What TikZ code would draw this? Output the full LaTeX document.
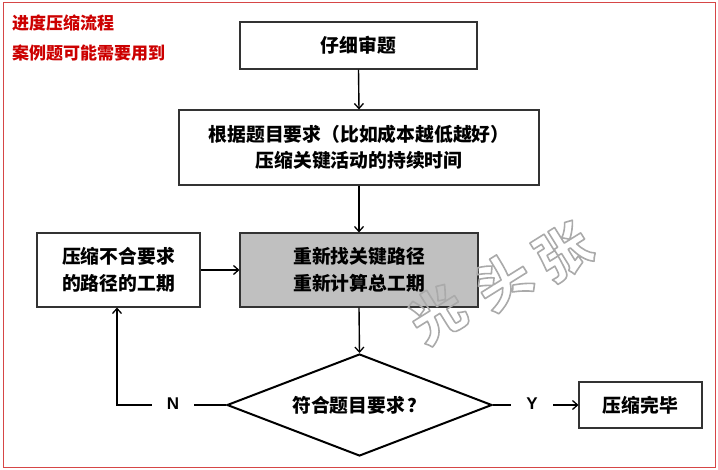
\documentclass[tikz,border=0pt]{standalone}
\usepackage{fontspec}
\usetikzlibrary{arrows.meta,shapes.geometric}
\newfontfamily\cjk{Noto Sans CJK SC}
\newfontfamily\latb{Liberation Sans}
\definecolor{redtxt}{RGB}{204,0,0}
\definecolor{redframe}{RGB}{214,70,70}
\definecolor{boxgray}{RGB}{192,192,192}
\definecolor{wmgray}{RGB}{170,170,170}
\newcommand{\hollowtext}[1]{\special{pdf:code 1 Tr 1.6 w 1 J 1 j}#1\special{pdf:code 0 Tr}}
\tikzset{
  box/.style={draw=black!80, line width=1.1pt, fill=white, align=center, inner sep=0pt,
    font=\cjk\bfseries\fontsize{18.8pt}{26.5pt}\selectfont},
  arr/.style={line width=1.4pt, -{Straight Barb[length=5pt,width=9pt,line width=1.3pt]}},
  lin/.style={line width=1.4pt},
  lbl/.style={font=\latb\bfseries\fontsize{17pt}{20pt}\selectfont, inner sep=0pt, minimum width=42pt, minimum height=20pt},
  redlbl/.style={font=\cjk\bfseries\fontsize{17pt}{20pt}\selectfont, text=redtxt, anchor=west, inner sep=0pt},
  wm/.style={font=\cjk\bfseries\fontsize{54pt}{56pt}\selectfont, rotate=32, inner sep=0pt, text=wmgray}
}
\begin{document}
\begin{tikzpicture}[x=1pt,y=-1pt]
\useasboundingbox (0,0) rectangle (718,470);
\fill[white] (0,0) rectangle (718,470);
\draw[redframe, line width=1pt] (3,3) rectangle (715,467);
% title texts
\node[redlbl] (t1) at (12,23) {进度压缩流程};
\node[redlbl] (t2) at (12,53) {案例题可能需要用到};
% boxes
\node[box, minimum width=237pt, minimum height=47pt] (b1) at (358.5,45.5) {仔细审题};
\node[box, minimum width=360pt, minimum height=75pt] (b2) at (359,147.5) {根据题目要求（比如成本越低越好）\\压缩关键活动的持续时间};
\node[box, fill=boxgray, minimum width=238pt, minimum height=74pt] (b3) at (359,270) {重新找关键路径\\重新计算总工期};
\node[box, minimum width=163pt, minimum height=74pt] (bl) at (118.5,270) {压缩不合要求\\的路径的工期};
\node[box, draw=black, line width=2pt, shape=diamond, aspect=2.6, minimum width=265pt, minimum height=102pt] (dia) at (359.5,405) {符合题目要求\kern3pt？};
\node[box, minimum width=123pt, minimum height=46pt] (be) at (640.5,405) {压缩完毕};
\node[lbl] (N) at (173,404) {N};
\node[lbl] (Y) at (532,404) {Y};
\coordinate (cn) at (117,405);
% watermark
\node[wm] (w1) at (437,314) {\hollowtext{光}};
\node[wm] (w2) at (503,281) {\hollowtext{头}};
\node[wm] (w3) at (563,252) {\hollowtext{张}};
% connectors
\draw[arr] (b1.south) -- (b2.north);
\draw[arr] (b2.south) -- (b3.north);
\draw[arr] (bl.east) -- (b3.west);
\draw[arr] (b3.south) -- (dia.north);
\draw[lin] (dia.west) -- (N.east |- dia.west);
\draw[arr] (N.west |- cn) -- (cn) -- (bl.south -| cn);
\draw[lin] (dia.east) -- (Y.west |- dia.east);
\draw[arr] (Y.east |- be.west) -- (be.west);
\end{tikzpicture}
\end{document}
